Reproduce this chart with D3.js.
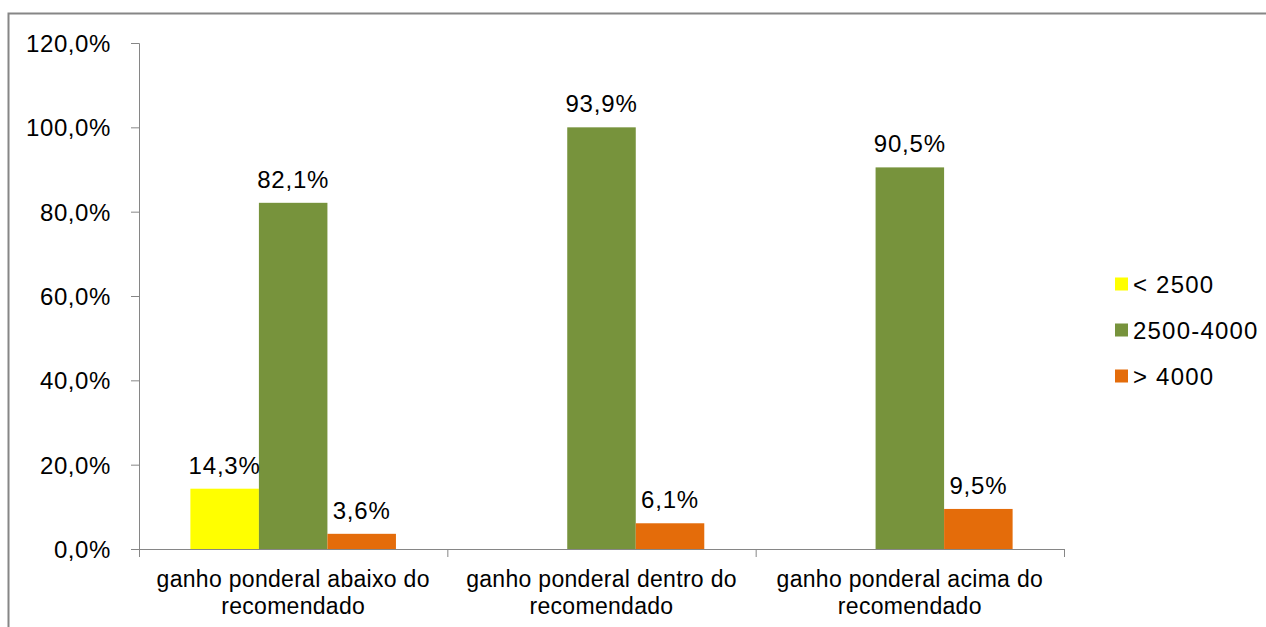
<!DOCTYPE html>
<html lang="pt">
<head>
    <meta charset="UTF-8">
    <title>Ganho ponderal e peso ao nascer</title>
    <style>
        body, html {
            margin: 0;
            padding: 0;
            width: 100%;
            height: 100%;
            overflow: hidden;
            background: #fff;
        }
        svg text {
            font-family: "Liberation Sans", Arial, sans-serif;
            fill: #000;
        }
    </style>
</head>
<body>
    <script src="https://d3js.org/d3.v7.min.js"></script>
    <script>
        // Data
        var categories = [
            ["ganho ponderal abaixo do", "recomendado"],
            ["ganho ponderal dentro do", "recomendado"],
            ["ganho ponderal acima do", "recomendado"]
        ];
        var seriesNames = ["< 2500", "2500-4000", "> 4000"];
        var seriesColors = ["#FFFF00", "#77933C", "#E46C0A"];
        // bar heights as drawn (%)
        var lowWeight = [14.3, 0, 0];
        var normalWeight = [82.1, 100, 90.5];
        var highWeight = [3.6, 6.1, 9.5];
        // labels as printed
        var lowLabels = ["14,3%", "", ""];
        var normalLabels = ["82,1%", "93,9%", "90,5%"];
        var highLabels = ["3,6%", "6,1%", "9,5%"];
        var yTicks = [0, 20, 40, 60, 80, 100, 120];

        var width = 1266, height = 627;
        var svg = d3.select("body").append("svg")
            .attr("width", width)
            .attr("height", height);

        // outer frame (only top and left visible)
        svg.append("path")
            .attr("d", "M8.5,627 V13.5 H1266")
            .attr("fill", "none")
            .attr("stroke", "#868686")
            .attr("stroke-width", 2);

        var plotLeft = 139, plotRight = 1064, plotTop = 43, plotBottom = 549;

        var y = d3.scaleLinear().domain([0, 120]).range([plotBottom, plotTop]);
        var x0 = d3.scaleBand().domain(d3.range(categories.length)).range([plotLeft, plotRight]);
        var x1 = d3.scaleBand().domain(d3.range(seriesNames.length))
            .range([0, x0.bandwidth()]).paddingOuter(0.75);

        var fmt = function(d) { return d3.format(".1f")(d).replace(".", ",") + "%"; };

        // y axis
        var yAxis = svg.append("g")
            .attr("transform", "translate(" + plotLeft + ",0)")
            .call(d3.axisLeft(y).tickValues(yTicks).tickSize(8).tickPadding(20).tickFormat(fmt));
        yAxis.selectAll("line, path").attr("stroke", "#868686");
        yAxis.select(".domain").attr("d", "M-8," + (plotTop + 0.5) + "H0.5V" + plotBottom);
        yAxis.selectAll("text")
            .style("font-size", "24px")
            .style("letter-spacing", "0.6px")
            .attr("dy", "0.35em");

        var rows = [
            { values: lowWeight, labels: lowLabels },
            { values: normalWeight, labels: normalLabels },
            { values: highWeight, labels: highLabels }
        ];

        var bars = [];
        rows.forEach(function(r, s) {
            r.values.forEach(function(v, c) {
                bars.push({ s: s, c: c, v: v, label: r.labels[c] });
            });
        });

        svg.selectAll("rect.bar")
            .data(bars.filter(function(d) { return d.v > 0; }))
            .enter().append("rect")
            .attr("class", "bar")
            .attr("x", function(d) { return x0(d.c) + x1(d.s); })
            .attr("width", x1.bandwidth())
            .attr("y", function(d) { return y(d.v); })
            .attr("height", function(d) { return plotBottom - y(d.v); })
            .attr("fill", function(d) { return seriesColors[d.s]; });

        svg.selectAll("text.val")
            .data(bars.filter(function(d) { return d.label; }))
            .enter().append("text")
            .attr("class", "val")
            .attr("x", function(d) { return x0(d.c) + x1(d.s) + x1.bandwidth() / 2; })
            .attr("y", function(d) { return y(d.v) - 15; })
            .attr("text-anchor", "middle")
            .style("font-size", "24px")
            .style("letter-spacing", "0.8px")
            .text(function(d) { return d.label; });

        // x axis
        var xg = svg.append("g");
        xg.append("line")
            .attr("x1", plotLeft).attr("x2", plotRight)
            .attr("y1", plotBottom + 0.5).attr("y2", plotBottom + 0.5)
            .attr("stroke", "#868686");
        xg.selectAll("line.tick")
            .data(d3.range(categories.length + 1))
            .enter().append("line")
            .attr("class", "tick")
            .attr("x1", function(i) { return (i < categories.length ? x0(i) : plotRight) + 0.5; })
            .attr("x2", function(i) { return (i < categories.length ? x0(i) : plotRight) + 0.5; })
            .attr("y1", plotBottom).attr("y2", plotBottom + 8)
            .attr("stroke", "#868686");

        var catText = svg.selectAll("text.cat")
            .data(categories)
            .enter().append("text")
            .attr("class", "cat")
            .attr("text-anchor", "middle")
            .style("font-size", "23px")
            .style("letter-spacing", "0.3px");
        catText.selectAll("tspan")
            .data(function(d, i) { return d.map(function(t) { return { t: t, i: i }; }); })
            .enter().append("tspan")
            .attr("x", function(d) { return x0(d.i) + x0.bandwidth() / 2; })
            .attr("y", function(d, j) { return 587 + j * 27; })
            .text(function(d) { return d.t; });

        // legend
        var legend = svg.selectAll("g.legend")
            .data(seriesNames)
            .enter().append("g")
            .attr("class", "legend")
            .attr("transform", function(d, i) { return "translate(1115," + (284 + i * 46) + ")"; });
        legend.append("rect")
            .attr("x", 0).attr("y", -6.5)
            .attr("width", 13).attr("height", 13)
            .attr("fill", function(d, i) { return seriesColors[i]; });
        legend.append("text")
            .attr("x", 18)
            .attr("dy", "0.36em")
            .style("font-size", "24px")
            .style("letter-spacing", "1.2px")
            .text(function(d) { return d; });
    </script>
</body>
</html>
